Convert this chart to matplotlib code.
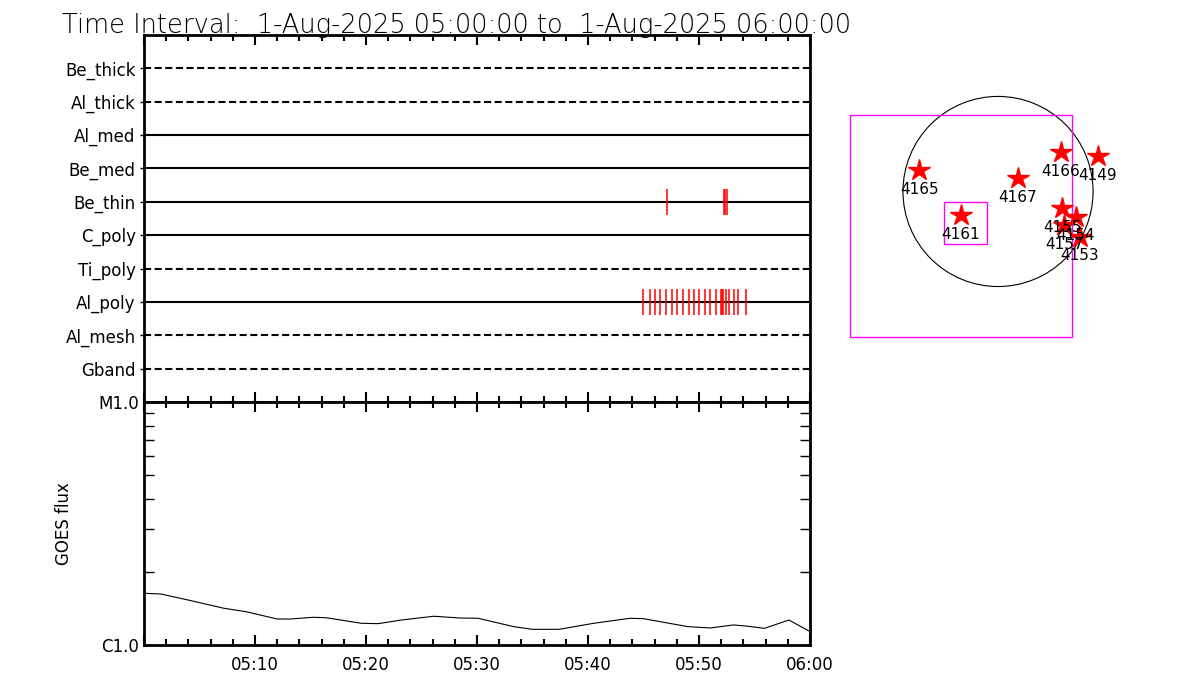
import numpy as np
import matplotlib
matplotlib.use("Agg")
import matplotlib.pyplot as plt
from matplotlib.ticker import FixedLocator, NullFormatter
from matplotlib.patches import Circle, Rectangle

plt.rcParams["font.family"] = ["DejaVu Sans"]

# ---- data -------------------------------------------------------------
title = "Time Interval:  1-Aug-2025 05:00:00 to  1-Aug-2025 06:00:00"

channels = ["Be_thick", "Al_thick", "Al_med", "Be_med", "Be_thin",
            "C_poly", "Ti_poly", "Al_poly", "Al_mesh", "Gband"]
dashed = [True, True, False, False, False, False, True, False, True, True]

# event times, minutes after 05:00
be_thin_events = [47.15, 52.22, 52.31, 52.5]
al_poly_events = [44.98, 45.61, 46.06, 46.51, 47.05, 47.59, 48.05, 48.59,
                  49.13, 49.58, 50.03, 50.57, 51.02, 51.56, 52.01, 52.1,
                  52.19, 52.4, 52.67, 53.13, 53.54, 54.26]

# GOES flux (W/m^2)
goes_t = [0.06, 1.53, 3.96, 7.2, 9.19, 12.0, 13.2, 15.2, 16.4, 19.6, 21.1,
          23.2, 26.1, 28.5, 30.1, 33.3, 35.0, 37.4, 40.5, 43.8, 45.0, 49.0,
          51.0, 53.1, 54.2, 55.9, 58.1, 59.9]
goes_flux = [1.632e-6, 1.621e-6, 1.532e-6, 1.416e-6, 1.371e-6, 1.279e-6,
             1.279e-6, 1.300e-6, 1.295e-6, 1.228e-6, 1.224e-6, 1.267e-6,
             1.313e-6, 1.291e-6, 1.288e-6, 1.190e-6, 1.160e-6, 1.160e-6,
             1.228e-6, 1.288e-6, 1.283e-6, 1.190e-6, 1.175e-6, 1.209e-6,
             1.197e-6, 1.171e-6, 1.267e-6, 1.142e-6]

time_ticks = [0, 10, 20, 30, 40, 50, 60]
time_labels = ["", "05:10", "05:20", "05:30", "05:40", "05:50", "06:00"]

# active regions, solar x/y in arcsec
ar_num = ["4165", "4167", "4161", "4166", "4149", "4155", "4154", "4157", "4153"]
ar_x = [-795, 199, -377, 633, 1007, 650, 785, 667, 828]
ar_y = [217, 133, -237, 394, 359, -170, -254, -338, -456]
r_sun = 960
fov_big = (-1495, -1470, 2242)   # x0, y0, size
fov_small = (-542, -533, 428)

# ---- figure -------------------------------------------------------------
fig = plt.figure(figsize=(12, 7), dpi=100)
fig.text(0.052, 0.982, title, fontsize=18.5, va="top", ha="left",
         fontweight="light")

ax1 = fig.add_axes([0.12, 0.4257, 0.555, 0.5243])
ax2 = fig.add_axes([0.12, 0.0786, 0.555, 0.3471])

rows = np.arange(1, len(channels) + 1)
for y, d in zip(rows, dashed):
    ax1.axhline(y, color="black", lw=1.5,
                ls=(0, (3.4, 1.7)) if d else "-")
ax1.vlines(be_thin_events, rows[4] - 0.39, rows[4] + 0.39, color="red", lw=1.1)
ax1.vlines(al_poly_events, rows[7] - 0.39, rows[7] + 0.39, color="red", lw=1.1)

ax1.set_xlim(0, 60)
ax1.set_ylim(len(channels) + 1, 0)
ax1.set_yticks(rows, labels=channels, fontsize=12)
ax1.tick_params(axis="y", direction="out", length=3, width=1, pad=3)
ax1.xaxis.set_major_locator(FixedLocator(time_ticks))
ax1.xaxis.set_minor_locator(FixedLocator(np.arange(0, 61, 2)))
ax1.tick_params(axis="x", which="both", direction="in", top=True, bottom=True,
                labelbottom=False, width=1.5)
ax1.tick_params(axis="x", which="major", length=7)
ax1.tick_params(axis="x", which="minor", length=4)

ax2.plot(goes_t, goes_flux, color="black", lw=0.8)
ax2.set_xlim(0, 60)
ax2.set_yscale("log")
ax2.set_ylim(1e-6, 1e-5)
ax2.yaxis.set_major_locator(FixedLocator([1e-6, 1e-5]))
ax2.set_yticklabels(["C1.0", "M1.0"], fontsize=12)
ax2.yaxis.set_minor_locator(FixedLocator([k * 1e-6 for k in range(2, 10)]))
ax2.yaxis.set_minor_formatter(NullFormatter())
ax2.tick_params(axis="y", which="both", direction="in", left=True, right=True,
                length=7, width=1)
ax2.xaxis.set_major_locator(FixedLocator(time_ticks))
ax2.set_xticklabels(time_labels, fontsize=12)
ax2.xaxis.set_minor_locator(FixedLocator(np.arange(0, 61, 2)))
ax2.tick_params(axis="x", which="both", direction="in", top=True, bottom=True,
                width=1.5, pad=8)
ax2.tick_params(axis="x", which="major", length=7)
ax2.tick_params(axis="x", which="minor", length=4)
ax2.set_ylabel("GOES flux", fontsize=12, labelpad=18)

for ax in (ax1, ax2):
    for s in ax.spines.values():
        s.set_linewidth(2)

# ---- solar map ----------------------------------------------------------
axm = fig.add_axes([0.7, 0.5, 0.225, 0.4286])
axm.set_xlim(-1596, 1131)
axm.set_ylim(-1601, 1429)
axm.axis("off")
axm.add_patch(Circle((0, 0), r_sun, fill=False, ec="black", lw=0.8))
for x0, y0, s in (fov_big, fov_small):
    axm.add_patch(Rectangle((x0, y0), s, s, fill=False, ec="magenta", lw=1))
axm.plot(ar_x, ar_y, ls="none", marker="*", ms=16, color="red", mec="red")
for n, x, y in zip(ar_num, ar_x, ar_y):
    axm.text(x, y - 195, n, fontsize=11, ha="center", va="center")

fig.savefig("out.png", dpi=100)
